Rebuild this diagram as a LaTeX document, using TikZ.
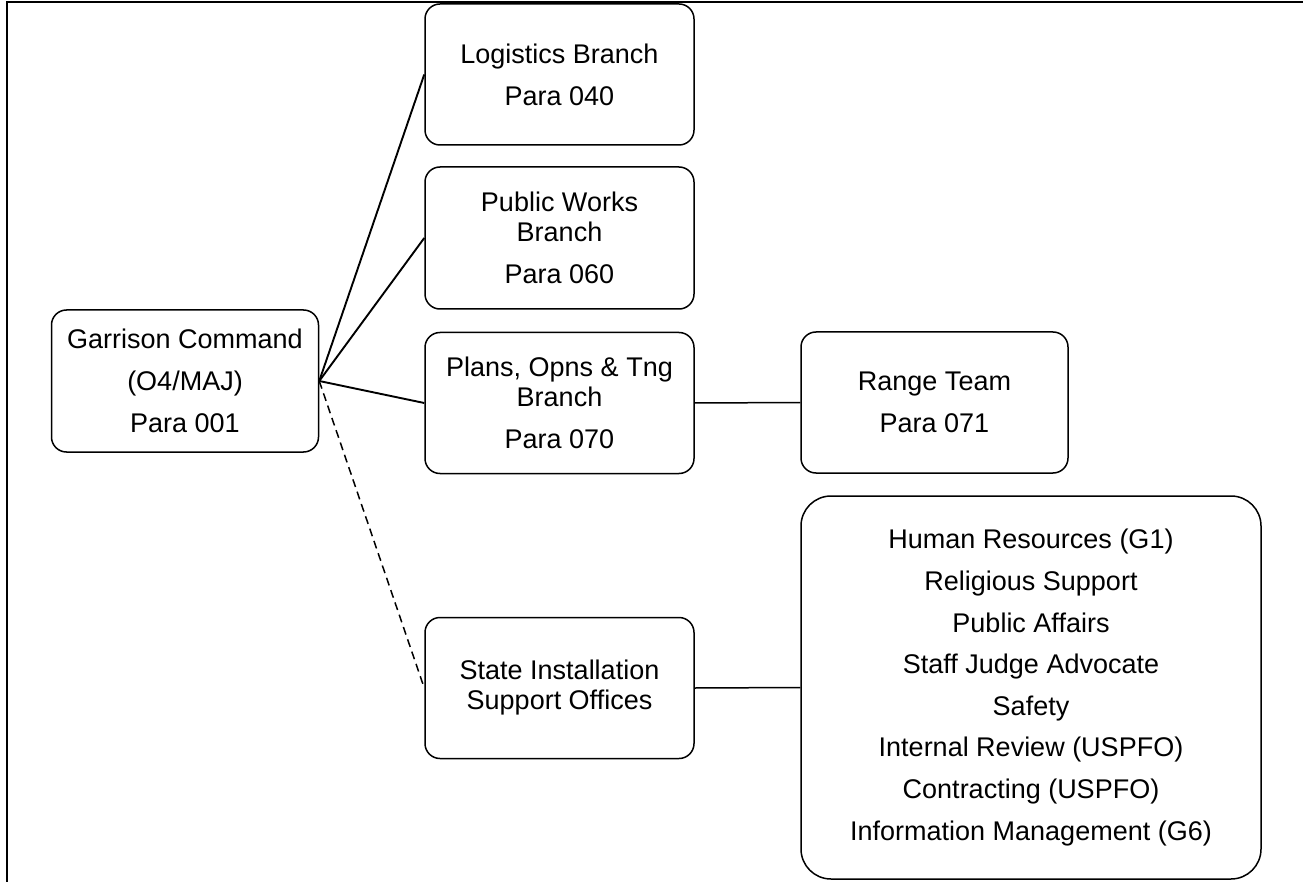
\documentclass[tikz,border=0pt]{standalone}
\usepackage{fontspec}
\setmainfont{Liberation Sans}
\begin{document}
\begin{tikzpicture}[x=1pt,y=-1pt,
  box/.style={draw, line width=1.5pt, rounded corners=15pt, align=center,
    font=\fontsize{27}{30}\selectfont, inner sep=0pt},
  conn/.style={line width=1.9pt},
  dconn/.style={line width=1.5pt, dash pattern=on 8pt off 5pt}]
\useasboundingbox (0,0) rectangle (1303,882);
\draw[line width=2.2pt] (7,882) -- (7,2) -- (1303,2);

\node[box, minimum width=267pt, minimum height=142pt] (gar) at (185,381)
  {Garrison Command\\[12pt](O4/MAJ)\\[12pt]Para 001};
\node[box, minimum width=269pt, minimum height=141pt] (log) at (559.5,74.5)
  {Logistics Branch\\[12pt]Para 040};
\node[box, minimum width=269pt, minimum height=142pt] (pw) at (559.5,238)
  {Public Works\\Branch\\[12pt]Para 060};
\node[box, minimum width=269pt, minimum height=141pt] (pl) at (559.5,403)
  {Plans, Opns \& Tng\\Branch\\[12pt]Para 070};
\node[box, minimum width=267pt, minimum height=141pt] (rt) at (934.5,402.5)
  {Range Team\\[12pt]Para 071};
\node[box, minimum width=269pt, minimum height=141pt] (sis) at (559.5,688)
  {State Installation\\Support Offices};
\node[box, rounded corners=30pt, minimum width=460pt, minimum height=383pt] (big) at (1031,687.5)
  {Human Resources (G1)\\[11.6pt]Religious Support\\[11.6pt]Public Affairs\\[11.6pt]Staff Judge Advocate\\[11.6pt]Safety\\[11.6pt]Internal Review (USPFO)\\[11.6pt]Contracting (USPFO)\\[11.6pt]Information Management (G6)};

\draw[conn] (gar.east) -- (log.west);
\draw[conn] (gar.east) -- (pw.west);
\draw[conn] (gar.east) -- (pl.west);
\draw[dconn] (gar.east) -- (sis.west);
\draw[line width=1.5pt] (pl.east) -- (rt.west);
\draw[line width=1.5pt] (sis.east) -- (big.west);
\end{tikzpicture}
\end{document}
